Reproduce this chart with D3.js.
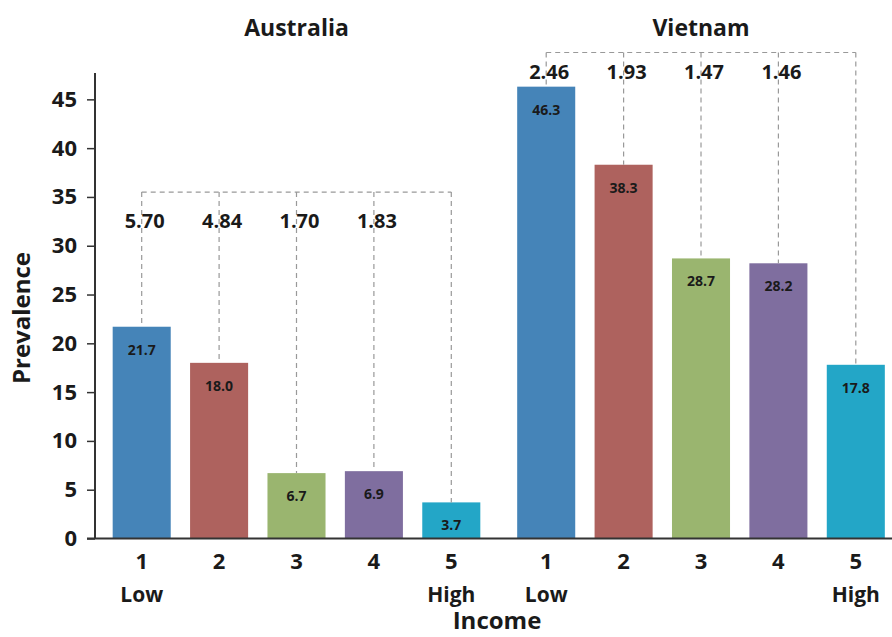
<!DOCTYPE html>
<html><head><meta charset="utf-8">
<script src="https://cdn.jsdelivr.net/npm/d3@7"></script>
<style>body{margin:0;background:#fff}svg{display:block}text{font-family:"Open Sans",sans-serif;font-weight:700;fill:#1a1a1a}</style>
</head><body><svg id="c" width="892" height="637"></svg>
<script>
const countries = ["Australia", "Vietnam"];
const incomeLevels = ["1", "2", "3", "4", "5"];
const incomeSubLabels = ["Low", "", "", "", "High"];
const prevalenceAustralia = [21.7, 18.0, 6.7, 6.9, 3.7];
const prevalenceVietnam = [46.3, 38.3, 28.7, 28.2, 17.8];
const oddsAustralia = ["5.70", "4.84", "1.70", "1.83"];
const oddsVietnam = ["2.46", "1.93", "1.47", "1.46"];
const yTicks = [0, 5, 10, 15, 20, 25, 30, 35, 40, 45];
const barColors = ["#4584B8", "#AE625E", "#9AB56F", "#7F6E9F", "#23A6C7"];

const prevalence = [prevalenceAustralia, prevalenceVietnam];
const odds = [oddsAustralia, oddsVietnam];
const bracketLevel = [35.5, 49.8];
const oddsLabelLevel = [31.8, 47.1];

const svg = d3.select("#c");
const y = d3.scaleLinear().domain([0, 47.7]).range([538.5, 73]);
const xg = d3.scaleBand().domain(countries).range([103, 894.5]).paddingInner(0.0433).paddingOuter(0);
const xi = d3.scaleBand().domain(incomeLevels).range([0, xg.bandwidth()]).paddingInner(0.25).paddingOuter(0.125);
const cx = (g, i) => xg(g) + xi(i) + xi.bandwidth() / 2;

countries.forEach((c, gi) => {
  const g = svg.append("g");
  g.selectAll("rect").data(prevalence[gi]).join("rect")
    .attr("x", (d, i) => xg(c) + xi(incomeLevels[i]))
    .attr("y", d => y(d))
    .attr("width", xi.bandwidth())
    .attr("height", d => y(0) - y(d))
    .attr("fill", (d, i) => barColors[i]);

  const by = y(bracketLevel[gi]);
  const dash = g.append("g").attr("stroke", "#999").attr("stroke-width", 1.2).attr("stroke-dasharray", "5,4").attr("fill", "none");
  dash.append("line").attr("x1", cx(c, "1")).attr("x2", cx(c, "5")).attr("y1", by).attr("y2", by);
  incomeLevels.forEach((l, i) => {
    dash.append("line").attr("x1", cx(c, l)).attr("x2", cx(c, l)).attr("y1", by).attr("y2", y(prevalence[gi][i]));
  });

  g.selectAll("text.v").data(prevalence[gi]).join("text")
    .attr("class", "v")
    .attr("x", (d, i) => cx(c, incomeLevels[i]))
    .attr("y", d => y(d) + 28)
    .attr("text-anchor", "middle")
    .style("font-size", "14px")
    .text(d => d.toFixed(1));

  g.selectAll("text.o").data(odds[gi]).join("text")
    .attr("class", "o")
    .attr("x", (d, i) => cx(c, incomeLevels[i]) + 3)
    .attr("y", y(oddsLabelLevel[gi]))
    .attr("text-anchor", "middle")
    .style("font-size", "20px")
    .text(d => d);

  svg.append("text").attr("x", xg(c) + xg.bandwidth() / 2).attr("y", 36)
    .attr("text-anchor", "middle").style("font-size", "23px").text(c);

  incomeLevels.forEach((l, i) => {
    svg.append("text").attr("x", cx(c, l)).attr("y", 569).attr("text-anchor", "middle").style("font-size", "22px").text(l);
    if (incomeSubLabels[i]) svg.append("text").attr("x", cx(c, l)).attr("y", 602).attr("text-anchor", "middle").style("font-size", "21px").text(incomeSubLabels[i]);
  });
});

const yAxis = svg.append("g").attr("transform", "translate(95,0)")
  .call(d3.axisLeft(y).tickValues(yTicks).tickSize(8).tickPadding(10));
yAxis.select(".domain").attr("stroke", "#333").attr("stroke-width", 2).attr("d", `M0,${y(47.7)}V${y(0)}`);
yAxis.selectAll(".tick line").attr("stroke", "#333").attr("stroke-width", 1.5);
yAxis.selectAll(".tick text").style("font-family", '"Open Sans",sans-serif').style("font-weight", 700).style("font-size", "22px").attr("fill", "#1a1a1a");

svg.append("line").attr("x1", 87).attr("x2", 892).attr("y1", y(0)).attr("y2", y(0)).attr("stroke", "#333").attr("stroke-width", 2);

svg.append("text").attr("transform", `translate(30,318) rotate(-90)`).attr("text-anchor", "middle").style("font-size", "24px").text("Prevalence");
svg.append("text").attr("x", 497).attr("y", 629).attr("text-anchor", "middle").style("font-size", "24px").text("Income");
</script></body></html>
